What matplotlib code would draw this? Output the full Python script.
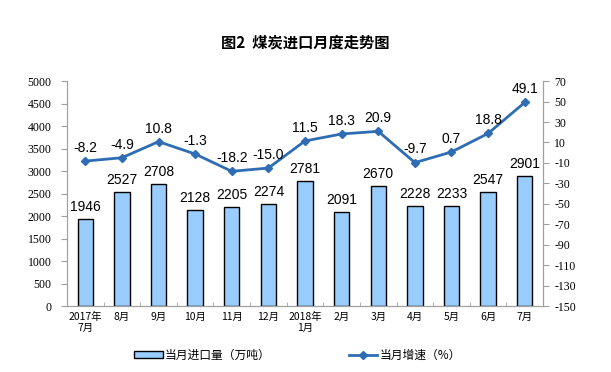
import matplotlib.pyplot as plt
from matplotlib.patches import Patch
from matplotlib.lines import Line2D

plt.rcParams['font.family'] = ['Noto Sans CJK SC', 'DejaVu Sans']

# 月份、进口量（万吨）、增速（%）
months = ['2017年\n7月', '8月', '9月', '10月', '11月', '12月', '2018年\n1月',
          '2月', '3月', '4月', '5月', '6月', '7月']
imports = [1946, 2527, 2708, 2128, 2205, 2274, 2781, 2091, 2670, 2228, 2233, 2547, 2901]
growth = [-8.2, -4.9, 10.8, -1.3, -18.2, -15.0, 11.5, 18.3, 20.9, -9.7, 0.7, 18.8, 49.1]
growth_txt = ['-8.2', '-4.9', '10.8', '-1.3', '-18.2', '-15.0', '11.5', '18.3', '20.9',
              '-9.7', '0.7', '18.8', '49.1']

bar_color = '#99CCFF'
line_color = '#2E6DB4'
num_font = ['Liberation Serif', 'Noto Sans CJK SC']

fig = plt.figure(figsize=(6.11, 3.72), dpi=100)
ax = fig.add_axes([0.1097, 0.177, 0.779, 0.605])
x = list(range(len(months)))

ax.bar(x, imports, width=0.42, color=bar_color, edgecolor='black', linewidth=1.0, zorder=2)
for xi, v in zip(x, imports):
    ax.text(xi, v + 110, str(v), ha='center', va='bottom', fontsize=10,
            family='Liberation Sans')

ax.set_xlim(-0.5, len(months) - 0.5)
ax.set_ylim(0, 5000)
ax.set_yticks(range(0, 5001, 500))
ax.set_yticklabels([str(t) for t in range(0, 5001, 500)], family=num_font, fontsize=8.5)
ax.set_xticks(x)
ax.set_xticklabels(months, fontsize=7.5)
ax.set_xticks([i + 0.5 for i in x[:-1]], minor=True)
ax.tick_params(axis='x', which='major', length=0, pad=4)
ax.tick_params(axis='x', which='minor', length=3, color='#A0A0A0', direction='in')
ax.tick_params(axis='y', length=4, color='#A0A0A0', direction='out', pad=7)

ax2 = ax.twinx()
ax2.plot(x, growth, color=line_color, linewidth=2, marker='D', markersize=4.5, zorder=3)
for xi, v, s in zip(x, growth, growth_txt):
    ax2.text(xi, v + 6, s, ha='center', va='bottom', fontsize=10,
             family='Liberation Sans')
ax2.set_ylim(-150, 70)
ax2.set_yticks(range(-150, 71, 20))
ax2.set_yticklabels([str(t) for t in range(-150, 71, 20)], family=num_font, fontsize=8.5)
ax2.tick_params(axis='y', length=4, color='#A0A0A0', direction='out', pad=4)

for a in (ax, ax2):
    a.spines['top'].set_visible(False)
    for s in ('left', 'right', 'bottom'):
        a.spines[s].set_color('#A0A0A0')

fig.text(0.5, 0.885, '图2  煤炭进口月度走势图', ha='center', va='center',
         fontsize=11, fontweight='bold')

handles = [Patch(facecolor=bar_color, edgecolor='black', linewidth=1.0),
           Line2D([0], [0], color=line_color, linewidth=2, marker='D', markersize=4)]
fig.legend(handles, ['当月进口量（万吨）', '当月增速（%）'], loc='center',
           bbox_to_anchor=(0.487, 0.045), ncol=2, frameon=False, fontsize=8.5,
           columnspacing=6.6, handlelength=2.4, handleheight=0.5, handletextpad=0.2)

fig.savefig('out.png', dpi=100)
